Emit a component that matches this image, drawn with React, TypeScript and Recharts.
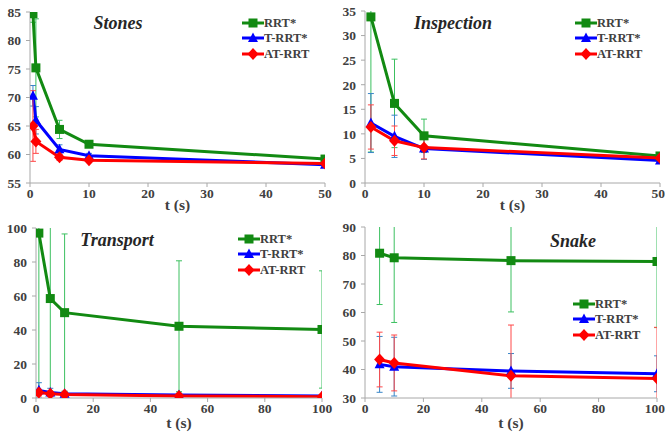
import React from 'react';
import { LineChart, Line, XAxis, YAxis, ErrorBar } from 'recharts';

// ---------- data ----------
const stonesT = [0.5, 1, 5, 10, 50];
const stonesRRT = [84.7, 75.2, 64.4, 61.8, 59.2];
const stonesRRTErr = [1.5, 8.6, 1.6, 0.5, 0.4];
const stonesTRRT = [70.3, 66.0, 60.9, 59.8, 58.2];
const stonesTRRTErr = [1.8, 2.4, 0.8, 0.4, 0.3];
const stonesATRRT = [65.0, 62.3, 59.5, 59.0, 58.4];
const stonesATRRTErr = [6.2, 2.1, 0.5, 0.4, 0.3];

const inspT = [1, 5, 10, 50];
const inspRRT = [33.8, 16.2, 9.6, 5.5];
const inspRRTErr = [27.5, 9.0, 3.4, 0.5];
const inspTRRT = [12.2, 9.5, 7.0, 4.6];
const inspTRRTErr = [6.0, 4.3, 2.2, 0.5];
const inspATRRT = [11.4, 8.6, 7.2, 5.1];
const inspATRRTErr = [4.5, 3.0, 2.3, 0.5];

const transT = [1, 5, 10, 50, 100];
const transRRT = [97, 58.5, 50.2, 42.2, 40.3];
const transRRTErr = [100, 60, 46.3, 38.5, 34.5];
const transTRRT = [4.5, 3.2, 2.5, 1.8, 1.2];
const transTRRTErr = [4.5, 2.5, 1.5, 1.0, 0.8];
const transATRRT = [3.2, 2.5, 2.0, 1.2, 0.8];
const transATRRTErr = [2.0, 1.5, 1.0, 0.8, 0.5];

const snakeT = [5, 10, 50, 100];
const snakeRRT = [80.8, 79.2, 78.2, 77.9];
const snakeRRTErr = [18.0, 22.7, 18.0, 23.2];
const snakeTRRT = [41.8, 41.0, 39.5, 38.5];
const snakeTRRTErr = [9.8, 10.3, 6.1, 6.3];
const snakeATRRT = [43.5, 42.3, 37.8, 36.8];
const snakeATRRTErr = [9.6, 9.8, 17.8, 18.0];

const seriesNames = ['RRT*', 'T-RRT*', 'AT-RRT'];

const stonesXTicks = [0, 10, 20, 30, 40, 50];
const stonesYTicks = [55, 60, 65, 70, 75, 80, 85];
const inspXTicks = [0, 10, 20, 30, 40, 50];
const inspYTicks = [0, 5, 10, 15, 20, 25, 30, 35];
const transXTicks = [0, 20, 40, 60, 80, 100];
const transYTicks = [0, 20, 40, 60, 80, 100];
const snakeXTicks = [0, 20, 40, 60, 80, 100];
const snakeYTicks = [30, 40, 50, 60, 70, 80, 90];

// ---------- style ----------
const GREEN = '#128a12';
const BLUE = '#0000ff';
const RED = '#ff0000';
const GREEN_ERR = '#3cc060';
const BLUE_ERR = '#3a86c8';
const RED_ERR = '#ff4848';
const AXIS = '#a8a8a8';
const BORDER = '#d4d4d4';
const TEXT = '#404040';
const FONT = '"Liberation Serif", "DejaVu Serif", serif';

const build = (t: number[], a: number[], ae: number[], b: number[], be: number[], c: number[], ce: number[]) =>
  t.map((x, i) => ({ t: x, rrt: a[i], rrtErr: ae[i], trrt: b[i], trrtErr: be[i], atrrt: c[i], atrrtErr: ce[i] }));

const stonesData = build(stonesT, stonesRRT, stonesRRTErr, stonesTRRT, stonesTRRTErr, stonesATRRT, stonesATRRTErr);
const inspData = build(inspT, inspRRT, inspRRTErr, inspTRRT, inspTRRTErr, inspATRRT, inspATRRTErr);
const transData = build(transT, transRRT, transRRTErr, transTRRT, transTRRTErr, transATRRT, transATRRTErr);
const snakeData = build(snakeT, snakeRRT, snakeRRTErr, snakeTRRT, snakeTRRTErr, snakeATRRT, snakeATRRTErr);

// ---------- markers ----------
const squareShape = (cx: number, cy: number, key?: string) => (
  <rect key={key} x={cx - 4.5} y={cy - 4.5} width={9} height={9} fill={GREEN} />
);
const triangleShape = (cx: number, cy: number, key?: string) => (
  <path key={key} d={`M${cx},${cy - 5.5} L${cx + 5},${cy + 4} L${cx - 5},${cy + 4} Z`} fill={BLUE} />
);
const diamondShape = (cx: number, cy: number, key?: string) => (
  <path key={key} d={`M${cx},${cy - 6} L${cx + 5.5},${cy} L${cx},${cy + 6} L${cx - 5.5},${cy} Z`} fill={RED} />
);

const makeDot = (shape: (cx: number, cy: number, key?: string) => React.ReactElement, prefix: string) =>
  (props: any) => {
    const { cx, cy, index } = props;
    if (cx == null || cy == null) return <g key={`${prefix}-${index}`} />;
    return shape(cx, cy, `${prefix}-${index}`);
  };

const shapes = [squareShape, triangleShape, diamondShape];
const colors = [GREEN, BLUE, RED];

// ---------- legend (HTML overlay) ----------
function LegendBox({ left, top }: { left: number; top: number }) {
  return (
    <div style={{ position: 'absolute', left, top, fontFamily: FONT, fontWeight: 'bold', fontSize: 12.5, color: TEXT }}>
      {seriesNames.map((n, i) => (
        <div key={n} style={{ display: 'flex', alignItems: 'center', height: 15.5 }}>
          <svg width={22} height={14} style={{ display: 'block' }}>
            <line x1={0} y1={7} x2={22} y2={7} stroke={colors[i]} strokeWidth={3} />
            {shapes[i](11, 7)}
          </svg>
          <span style={{ marginLeft: 0, lineHeight: '14px' }}>{n}</span>
        </div>
      ))}
    </div>
  );
}

function Title({ text, cx, cy }: { text: string; cx: number; cy: number }) {
  return (
    <div
      style={{
        position: 'absolute',
        left: cx - 80,
        top: cy - 11,
        width: 160,
        textAlign: 'center',
        fontFamily: FONT,
        fontStyle: 'italic',
        fontWeight: 'bold',
        fontSize: 18,
        lineHeight: '22px',
        color: '#262626',
      }}
    >
      {text}
    </div>
  );
}

type PanelProps = {
  id: string;
  data: any[];
  xTicks: number[];
  yTicks: number[];
  width: number;
  height: number;
  top: number;
  right: number;
  yWidth: number;
  xHeight: number;
};

function Panel({ id, data, xTicks, yTicks, width, height, top, right, yWidth, xHeight }: PanelProps) {
  const tickStyle = { fill: TEXT, fontSize: 13.5, fontWeight: 'bold', fontFamily: FONT };
  const xDomain = [xTicks[0], xTicks[xTicks.length - 1]];
  const yDomain = [yTicks[0], yTicks[yTicks.length - 1]];
  const keys = ['rrt', 'trrt', 'atrrt'];
  const errColors = [GREEN_ERR, BLUE_ERR, RED_ERR];
  const clipId = `plotclip-${id}`;
  return (
    <div className={`panel-${id}`} style={{ position: 'relative', width, height }}>
      <style>{`.panel-${id} g[class*="errorBar"] { clip-path: url(#${clipId}); }`}</style>
      <svg width={0} height={0} style={{ position: 'absolute' }}>
        <defs>
          <clipPath id={clipId} clipPathUnits="userSpaceOnUse">
            <rect x={yWidth} y={top} width={width - yWidth - right} height={height - top - xHeight} />
          </clipPath>
        </defs>
      </svg>
      <LineChart width={width} height={height} data={data} margin={{ top, right, left: 0, bottom: 0 }}>
        <XAxis
          xAxisId="top"
          orientation="top"
          dataKey="t"
          type="number"
          domain={xDomain}
          height={0}
          tick={false}
          tickLine={false}
          axisLine={{ stroke: BORDER }}
        />
        <YAxis
          yAxisId="right"
          orientation="right"
          type="number"
          domain={yDomain}
          width={0}
          tick={false}
          tickLine={false}
          axisLine={{ stroke: BORDER }}
        />
        <XAxis
          dataKey="t"
          type="number"
          domain={xDomain}
          ticks={xTicks}
          allowDataOverflow
          height={xHeight}
          tick={tickStyle}
          tickSize={4}
          tickMargin={1}
          tickLine={{ stroke: AXIS }}
          axisLine={{ stroke: AXIS }}
          label={{
            value: 't (s)',
            position: 'insideBottom',
            offset: 5,
            style: { fill: TEXT, fontSize: 15.5, fontWeight: 'bold', fontFamily: FONT },
          }}
        />
        <YAxis
          type="number"
          domain={yDomain}
          ticks={yTicks}
          allowDataOverflow
          width={yWidth}
          tick={tickStyle}
          tickSize={4}
          tickMargin={5}
          tickLine={{ stroke: AXIS }}
          axisLine={{ stroke: AXIS }}
        />
        {keys.map((k, i) => (
          <Line
            key={k}
            dataKey={k}
            name={seriesNames[i]}
            stroke={colors[i]}
            strokeWidth={3}
            dot={makeDot(shapes[i], `${k}-dot`)}
            activeDot={false}
            isAnimationActive={false}
          >
            <ErrorBar dataKey={`${k}Err`} direction="y" width={3} stroke={errColors[i]} strokeWidth={1} isAnimationActive={false} />
          </Line>
        ))}
      </LineChart>
    </div>
  );
}

export default function App() {
  return (
    <div style={{ position: 'absolute', left: 0, top: 0, width: 665, height: 433, background: '#fff', overflow: 'hidden' }}>
      <div style={{ position: 'absolute', left: 0, top: 0 }}>
        <Panel id="stones" data={stonesData} xTicks={stonesXTicks} yTicks={stonesYTicks} width={335} height={215} top={12} right={10} yWidth={30} xHeight={32} />
      </div>
      <div style={{ position: 'absolute', left: 330, top: 0 }}>
        <Panel id="insp" data={inspData} xTicks={inspXTicks} yTicks={inspYTicks} width={335} height={215} top={11} right={5} yWidth={35} xHeight={32} />
      </div>
      <div style={{ position: 'absolute', left: 0, top: 215 }}>
        <Panel id="trans" data={transData} xTicks={transXTicks} yTicks={transYTicks} width={335} height={218} top={13} right={13} yWidth={36} xHeight={35} />
      </div>
      <div style={{ position: 'absolute', left: 330, top: 215 }}>
        <Panel id="snake" data={snakeData} xTicks={snakeXTicks} yTicks={snakeYTicks} width={335} height={218} top={12} right={8} yWidth={35} xHeight={35} />
      </div>

      <Title text="Stones" cx={118} cy={23} />
      <Title text="Inspection" cx={453} cy={23} />
      <Title text="Transport" cx={117} cy={240} />
      <Title text="Snake" cx={573} cy={241} />

      <LegendBox left={242} top={15} />
      <LegendBox left={575} top={15} />
      <LegendBox left={238} top={231} />
      <LegendBox left={573} top={296} />
    </div>
  );
}
